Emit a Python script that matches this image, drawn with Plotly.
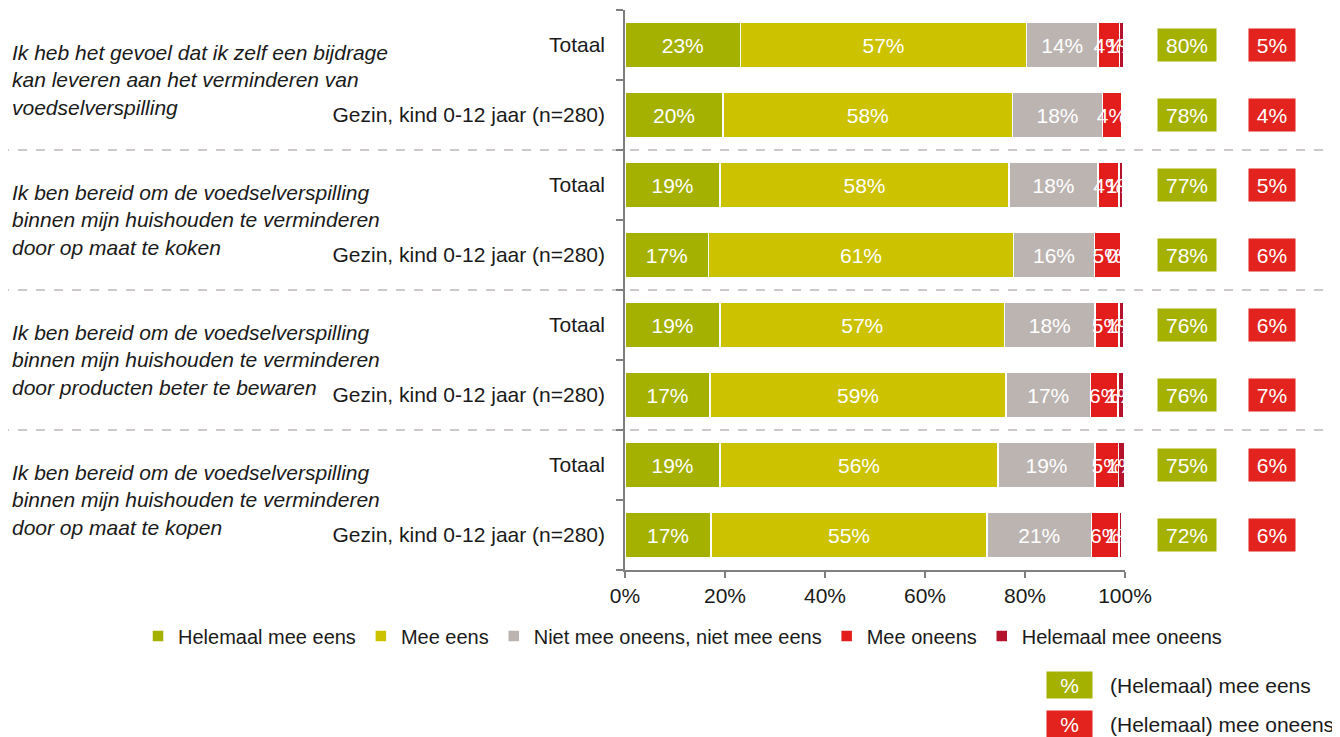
import plotly.graph_objects as go

# row labels (top to bottom)
statements = [
    "Ik heb het gevoel dat ik zelf een bijdrage<br>kan leveren aan het verminderen van<br>voedselverspilling",
    "Ik ben bereid om de voedselverspilling<br>binnen mijn huishouden te verminderen<br>door op maat te koken",
    "Ik ben bereid om de voedselverspilling<br>binnen mijn huishouden te verminderen<br>door producten beter te bewaren",
    "Ik ben bereid om de voedselverspilling<br>binnen mijn huishouden te verminderen<br>door op maat te kopen",
]
groups = ["Totaal", "Gezin, kind 0-12 jaar (n=280)"]
row_labels = [g for _ in statements for g in groups]

series_names = [
    "Helemaal mee eens",
    "Mee eens",
    "Niet mee oneens, niet mee eens",
    "Mee oneens",
    "Helemaal mee oneens",
]
helemaal_mee_eens = [23.1, 19.6, 19.0, 16.7, 19.0, 17.0, 19.0, 17.2]
mee_eens = [57.2, 57.9, 57.8, 61.0, 56.9, 59.2, 55.6, 55.2]
neutraal = [14.3, 18.0, 17.8, 16.2, 18.1, 16.9, 19.4, 20.9]
mee_oneens = [4.3, 3.8, 4.2, 5.3, 4.8, 5.5, 4.7, 5.5]
helemaal_mee_oneens = [0.9, 0.0, 0.8, 0.3, 1.0, 1.1, 1.2, 0.6]

totaal_eens = [80, 78, 77, 78, 76, 76, 75, 72]
totaal_oneens = [5, 4, 5, 6, 6, 7, 6, 6]

colors = ["#a4b100", "#ccc200", "#bbb4b1", "#e21d1c", "#b5132b"]
GREEN = "#a4b100"
RED = "#e2231e"
FONT = "Liberation Sans, Arial, sans-serif"
FS = 21

# page is 1340x737, the html body adds an 8px margin
W, H = 1340, 737
OFF = 8
L, R, T, B = 625, 215, 10, 167
pw = W - L - R
ph = H - T - B


def px_x(p):
    return (p - L) / pw


def px_y(p):
    return (H - B - p) / ph


rows = list(range(len(row_labels)))

fig = go.Figure()
for name, vals, col in zip(
    series_names,
    [helemaal_mee_eens, mee_eens, neutraal, mee_oneens, helemaal_mee_oneens],
    colors,
):
    fig.add_trace(
        go.Bar(
            y=rows,
            x=vals,
            orientation="h",
            name=name,
            marker={"color": col, "line": {"color": "white", "width": 1.5}},
            text=[f"{v:.0f}%" if v > 0 else "" for v in vals],
            textposition="inside",
            insidetextanchor="middle",
            textangle=0,
            constraintext="none",
            textfont={"color": "white", "size": FS, "family": FONT},
            width=0.64,
            hoverinfo="skip",
        )
    )

annotations = []
for i, txt in enumerate(statements):
    annotations.append(
        dict(
            x=px_x(10), xref="paper", y=2 * i + 0.5, yref="y",
            xanchor="left", yanchor="middle", align="left",
            text=txt, showarrow=False,
            font={"size": FS, "color": "#1a1a1a", "style": "italic"},
        )
    )

for i in rows:
    annotations.append(
        dict(
            x=px_x(1187), xref="paper", y=i, yref="y",
            xanchor="center", yanchor="middle",
            text=f"{totaal_eens[i]}%", showarrow=False,
            bgcolor=GREEN, width=56, height=30, borderpad=1,
            font={"size": FS, "color": "white"},
        )
    )
    annotations.append(
        dict(
            x=px_x(1272), xref="paper", y=i, yref="y",
            xanchor="center", yanchor="middle",
            text=f"{totaal_oneens[i]}%", showarrow=False,
            bgcolor=RED, width=44, height=30, borderpad=1,
            font={"size": FS, "color": "white"},
        )
    )

# key for the summary boxes
for yy, col, lab in [(685, GREEN, "(Helemaal) mee eens"), (724, RED, "(Helemaal) mee oneens")]:
    annotations.append(
        dict(
            x=px_x(1069), xref="paper", y=px_y(yy), yref="paper",
            xanchor="center", yanchor="middle",
            text="%", showarrow=False, bgcolor=col, width=43, height=24,
            borderpad=1, font={"size": FS, "color": "white"},
        )
    )
    annotations.append(
        dict(
            x=px_x(1108), xref="paper", y=px_y(yy), yref="paper",
            xanchor="left", yanchor="middle", text=lab, showarrow=False,
            font={"size": FS, "color": "#1a1a1a"},
        )
    )

shapes = []
for yb in [1.5, 3.5, 5.5]:
    shapes.append(
        dict(
            type="line", xref="paper", yref="y",
            x0=px_x(0), x1=px_x(W), y0=yb, y1=yb,
            line={"color": "#bdb8b6", "width": 1.5, "dash": "dash"},
            layer="below",
        )
    )

fig.update_layout(
    width=W - OFF,
    height=H - OFF,
    barmode="stack",
    plot_bgcolor="white",
    paper_bgcolor="white",
    font={"family": FONT, "size": FS, "color": "#1a1a1a"},
    margin={"l": L - OFF, "r": R, "t": T - OFF, "b": B, "autoexpand": False},
    showlegend=True,
    legend={
        "orientation": "h",
        "x": px_x(138),
        "xanchor": "left",
        "y": px_y(636),
        "yanchor": "middle",
        "font": {"size": 20},
        "itemwidth": 30,
        "traceorder": "normal",
        "bgcolor": "rgba(0,0,0,0)",
    },
    xaxis={
        "range": [0, 100],
        "dtick": 20,
        "ticksuffix": "%",
        "showgrid": False,
        "zeroline": False,
        "showline": True,
        "linecolor": "#7f7f7f",
        "linewidth": 1.5,
        "ticks": "outside",
        "ticklen": 6,
        "tickcolor": "#7f7f7f",
        "tickwidth": 1.5,
        "tickfont": {"size": FS},
    },
    yaxis={
        "range": [7.5, -0.5],
        "tickvals": rows,
        "ticktext": row_labels,
        "ticks": "",
        "ticklabelstandoff": 14,
        "showgrid": False,
        "zeroline": False,
        "showline": True,
        "linecolor": "#7f7f7f",
        "linewidth": 1.5,
        "tickfont": {"size": FS, "color": "#1a1a1a"},
        "minor": {
            "tickvals": [r - 0.5 for r in rows] + [len(rows) - 0.5],
            "ticks": "outside",
            "ticklen": 7,
            "tickcolor": "#7f7f7f",
            "tickwidth": 1.5,
        },
    },
    annotations=annotations,
    shapes=shapes,
)

fig.write_html("out.html")
